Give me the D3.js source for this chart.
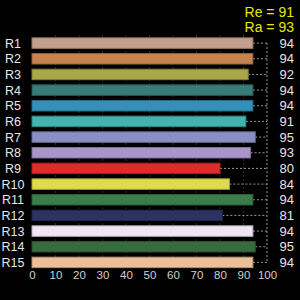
<!DOCTYPE html>
<html>
<head>
<meta charset="utf-8">
<script src="https://cdn.jsdelivr.net/npm/d3@7"></script>
<style>
  html, body { margin: 0; padding: 0; background: #000; }
  svg { display: block; font-family: "Liberation Sans", Arial, sans-serif; }
</style>
</head>
<body>
<svg id="chart" width="300" height="300"></svg>
<script>
// chart data
const rows = ["R1","R2","R3","R4","R5","R6","R7","R8","R9","R10","R11","R12","R13","R14","R15"];
const values = [94, 94, 92, 94, 94, 91, 95, 93, 80, 84, 94, 81, 94, 95, 94];
const colors = ["#c49f8e","#c4834f","#aaa64a","#377c78","#3490b8","#44b2ad","#8a8fc3","#a995c7",
                "#dc2d2a","#e0da4f","#3a7d48","#2b3461","#f0e6f3","#376c3d","#ecbf98"];
const xTicks = [0, 10, 20, 30, 40, 50, 60, 70, 80, 90, 100];
const titleLines = ["Re = 91", "Ra = 93"];

let svg = d3.select("#chart");

let x = d3.scaleLinear().domain([0, 100]).range([32, 267]);
let y = d3.scaleBand().domain(rows).range([35.5, 270]).paddingInner(0.33).paddingOuter(0.15);

// faint dotted gridlines
svg.append("g")
    .selectAll("line")
    .data(xTicks.slice(1, -1))
    .enter()
    .append("line")
    .attr("x1", d => x(d)).attr("x2", d => x(d))
    .attr("y1", y.range()[0]).attr("y2", y.range()[1] - 3)
    .attr("stroke", "#555")
    .attr("stroke-dasharray", "1,3");

// right dotted boundary at 100
svg.append("line")
    .attr("x1", x(100)).attr("x2", x(100))
    .attr("y1", y(rows[0]) + y.bandwidth() / 2)
    .attr("y2", y(rows[rows.length - 1]) + y.bandwidth() / 2)
    .attr("stroke", "#999")
    .attr("stroke-dasharray", "2,2");

// connector from bar end to 100
svg.append("g")
    .selectAll("line")
    .data(rows)
    .enter()
    .append("line")
    .attr("x1", (d, i) => x(values[i])).attr("x2", x(100))
    .attr("y1", d => y(d) + y.bandwidth() / 2)
    .attr("y2", d => y(d) + y.bandwidth() / 2)
    .attr("stroke", "#999")
    .attr("stroke-dasharray", "2,2");

// bars
svg.append("g")
    .selectAll("rect")
    .data(rows)
    .enter()
    .append("rect")
    .attr("x", x(0))
    .attr("y", d => y(d))
    .attr("width", (d, i) => x(values[i]) - x(0))
    .attr("height", y.bandwidth())
    .attr("fill", (d, i) => colors[i])
    .attr("stroke", (d, i) => d3.color(colors[i]).darker(0.8))
    .attr("stroke-width", 1);

// row labels
svg.append("g")
    .selectAll("text")
    .data(rows)
    .enter()
    .append("text")
    .attr("x", 13)
    .attr("y", d => y(d) + y.bandwidth() / 2)
    .attr("dy", "0.36em")
    .attr("text-anchor", "middle")
    .attr("fill", "#e6e6e6")
    .attr("font-size", 12.5)
    .text(d => d);

// value labels
svg.append("g")
    .selectAll("text")
    .data(rows)
    .enter()
    .append("text")
    .attr("x", 294)
    .attr("y", d => y(d) + y.bandwidth() / 2)
    .attr("dy", "0.36em")
    .attr("text-anchor", "end")
    .attr("fill", "#e6e6e6")
    .attr("font-size", 13)
    .text((d, i) => values[i]);

// x axis
let xAxis = svg.append("g")
    .attr("transform", "translate(0,268)")
    .call(d3.axisBottom(x).tickValues(xTicks).tickSize(0).tickPadding(3));
xAxis.select(".domain").remove();
xAxis.selectAll("text")
    .attr("fill", "#d0d0d0")
    .attr("font-size", 11.5)
    .attr("font-family", "Liberation Sans, Arial, sans-serif");

// title
svg.append("g")
    .selectAll("text")
    .data(titleLines)
    .enter()
    .append("text")
    .attr("x", 294)
    .attr("y", (d, i) => 17 + i * 15)
    .attr("text-anchor", "end")
    .attr("fill", "#e8e800")
    .attr("font-size", 14)
    .text(d => d);
</script>
</body>
</html>
